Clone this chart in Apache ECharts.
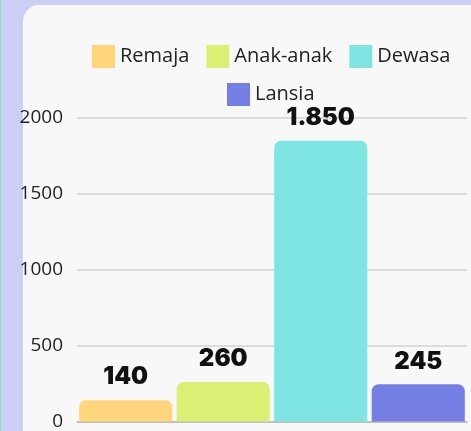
<!DOCTYPE html>
<html>
<head>
<meta charset="utf-8">
<script src="https://cdn.jsdelivr.net/npm/echarts@6/dist/echarts.min.js"></script>
<style>
    html, body { margin:0; padding:0; width:471px; height:431px; overflow:hidden; background:#cbcef5; }
    #edge { position:absolute; left:0; top:0; width:1px; height:431px; background:#7fe3c4; }
    #card { position:absolute; left:23px; top:5px; width:520px; height:480px; background:#f8f8f8; border-radius:16px; }
    #chart { position:absolute; left:0; top:0; width:471px; height:431px; }
</style>
</head>
<body>
<div id="edge"></div>
<div id="card"></div>
<div id="chart"></div>
<script>
    var categories = ['Remaja', 'Anak-anak', 'Dewasa', 'Lansia'];
    var values = [140, 260, 1850, 245];
    var colors = ['#ffd57b', '#dbef74', '#7fe5e2', '#757fe3'];
    var yTicks = { min: 0, max: 2000, interval: 500 };

    // angka pakai titik ribuan (1.850)
    var fmtNum = function (v) {
        return String(v).replace(/\B(?=(\d{3})+(?!\d))/g, '.');
    };

    var myChart = echarts.init(document.getElementById('chart'));

    var seriesList = categories.map(function (name, i) {
        return {
            name: name,
            type: 'bar',
            stack: 'usia',
            barCategoryGap: '4.5%',
            data: categories.map(function (c, j) { return j === i ? values[i] : '-'; }),
            itemStyle: { color: colors[i], borderRadius: [7, 7, 0, 0] },
            label: {
                show: true,
                position: 'top',
                distance: 11,
                formatter: function (p) { return fmtNum(p.value); },
                fontFamily: 'Inter',
                fontWeight: 900,
                fontSize: 24,
                color: '#111'
            }
        };
    });

    var legendText = { fontFamily: 'Open Sans', fontSize: 20, color: '#222' };

    var option = {
        animation: false,
        color: colors,
        legend: [
            {
                data: categories.slice(0, 3),
                left: 92, top: 45,
                padding: 0,
                icon: 'rect',
                itemWidth: 23, itemHeight: 23,
                itemGap: 17,
                textStyle: legendText,
                selectedMode: false
            },
            {
                data: categories.slice(3),
                left: 227, top: 83,
                padding: 0,
                icon: 'rect',
                itemWidth: 23, itemHeight: 23,
                textStyle: legendText,
                selectedMode: false
            }
        ],
        grid: { left: 77, right: 4, top: 118, bottom: 9, containLabel: false },
        xAxis: {
            type: 'category',
            data: categories,
            axisLabel: { show: false },
            axisTick: { show: false },
            axisLine: { lineStyle: { color: '#b5b5b5', width: 1.5 } }
        },
        yAxis: {
            type: 'value',
            min: yTicks.min,
            max: yTicks.max,
            interval: yTicks.interval,
            axisLabel: {
                fontFamily: 'Open Sans', fontSize: 19, color: '#222', margin: 14,
                formatter: function (v) { return String(v); }
            },
            splitLine: { lineStyle: { color: '#d2d2d2', width: 1.5 } }
        },
        series: seriesList
    };
    myChart.setOption(option);
</script>
</body>
</html>
